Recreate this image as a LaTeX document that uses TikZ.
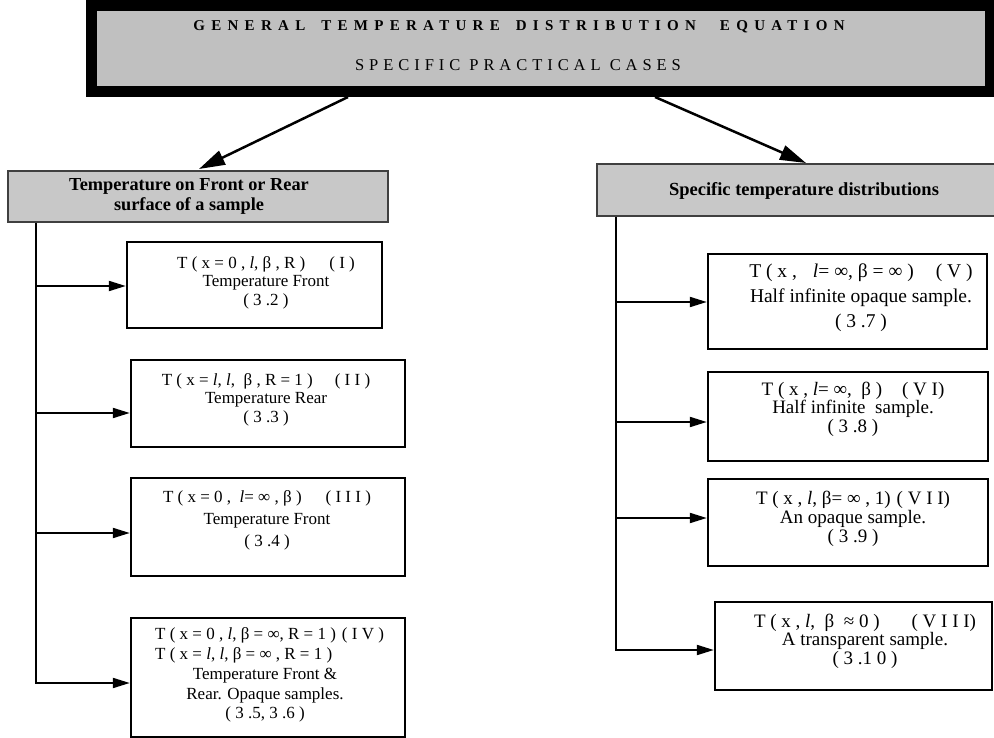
\documentclass[tikz,border=0pt]{standalone}
\usepackage{fontspec}
\setmainfont{Liberation Serif}
\newfontfamily\titlefont[LetterSpace=42]{Liberation Serif}
\newfontfamily\subtitlefont[LetterSpace=30]{Liberation Serif}
\usetikzlibrary{arrows.meta}
\definecolor{hdgray}{RGB}{200,200,200}
\definecolor{ttlgray}{RGB}{192,192,192}
\newcommand{\fsz}[2]{\fontsize{#1pt}{#2pt}\selectfont}
\newcommand{\il}{\textit{l}}
\tikzset{
  boxnode/.style={draw=black, line width=2.4pt, rectangle, inner sep=0pt},
  headbox/.style={draw=black!75, fill=hdgray, line width=2pt, rectangle, inner sep=0pt},
  txt/.style={align=center, inner sep=0pt, anchor=north},
  branch/.style={line width=2pt, -{Triangle[length=17pt,width=10pt]}},
  trunk/.style={line width=2pt},
  bigarrow/.style={line width=2.5pt, -{Triangle[length=26pt,width=15pt]}},
}
\begin{document}
\begin{tikzpicture}[x=1pt,y=-1pt]
\useasboundingbox (0,0) rectangle (994,738);
% title
\node[rectangle, draw=black, fill=ttlgray, line width=11pt, minimum width=899pt, minimum height=86pt, inner sep=0pt] (title) at (541,48.5) {};
\node[inner sep=0pt, font=\titlefont\bfseries\fsz{15}{17}] (ttl1) at (519,26.5) {GENERAL\hspace{16pt}TEMPERATURE\hspace{16pt}DISTRIBUTION\hspace{24pt}EQUATION};
\node[inner sep=0pt, font=\subtitlefont\fsz{16.5}{18}] (ttl2) at (518,65) {SPECIFIC PRACTICAL CASES};
% headers
\node[headbox, minimum width=380pt, minimum height=51pt] (hl) at (198,196.5) {};
\node[txt, font=\bfseries\fsz{18.3}{20}] (hlt) at (189,178) {Temperature on Front or Rear\\surface of a sample};
\node[headbox, minimum width=403pt, minimum height=52pt] (hr) at (798.5,190) {};
\node[inner sep=0pt, font=\bfseries\fsz{18.5}{20}] (hrt) at (804,191) {Specific temperature distributions};
% left boxes
\node[boxnode, minimum width=255pt, minimum height=86pt] (b1) at (254.5,285) {};
\node[boxnode, minimum width=274pt, minimum height=87pt] (b2) at (268,403.5) {};
\node[boxnode, minimum width=274pt, minimum height=98pt] (b3) at (268,527) {};
\node[boxnode, minimum width=274pt, minimum height=119pt] (b4) at (268,677.5) {};
% right boxes
\node[boxnode, minimum width=279pt, minimum height=95pt] (b5) at (847.5,301.5) {};
\node[boxnode, minimum width=280pt, minimum height=89pt] (b6) at (848,416.5) {};
\node[boxnode, minimum width=280pt, minimum height=87pt] (b7) at (848,522.5) {};
\node[boxnode, minimum width=277pt, minimum height=88pt] (b8) at (853.5,646) {};
% texts
\node[txt, font=\fsz{17}{18.5}] (t1) at (266,256) {T ( x = 0 , \il, β , R )\hspace{24pt}( I )\\Temperature Front\\( 3 .2 )};
\node[txt, font=\fsz{17}{18.5}] (t2) at (266,373) {T ( x = \il, \il, \ β , R = 1 )\hspace{22pt}( I I )\\Temperature Rear\\( 3 .3 )};
\node[txt, font=\fsz{17}{22}] (t3) at (267,490) {T ( x = 0 , \ \il = ∞ , β )\hspace{24pt}( I I I )\\Temperature Front\\( 3 .4 )};
\node[txt, anchor=north west, align=left, font=\fsz{17}{20}] (t4a) at (155,627) {T ( x = 0 , \il, β = ∞, R = 1 )\hspace{6pt}( I V )\\T ( x = \il, \il, β = ∞ , R = 1 )};
\node[txt, font=\fsz{17}{19.5}] (t4b) at (265,668) {Temperature Front \&\\Rear. Opaque samples.\\( 3 .5, 3 .6 )};
\node[txt, font=\fsz{19.5}{25}] (t5) at (861,264) {T ( x ,\hspace{16pt}\il = ∞, β = ∞ )\hspace{22pt}( V )\\Half infinite opaque sample.\\( 3 .7 )};
\node[txt, font=\fsz{19}{18.5}] (t6) at (853,381.5) {T ( x , \il = ∞, \ β )\hspace{20pt}( V I)\\Half infinite \ sample.\\( 3 .8 )};
\node[txt, font=\fsz{19}{19}] (t7) at (853,490.5) {T ( x , \il, β= ∞ , 1)\hspace{6pt}( V I I)\\An opaque sample.\\( 3 .9 )};
\node[txt, font=\fsz{19}{18.5}] (t8) at (865,613.5) {T ( x , \il, \ β \ ≈ 0 )\hspace{32pt}( V I I I)\\A transparent sample.\\( 3 .1 0 )};
% top arrows
\coordinate (aL0) at (348,97);
\coordinate (aL1) at (199,169);
\coordinate (aR0) at (655,97);
\coordinate (aR1) at (806,163);
\draw[bigarrow] (aL0) -- (aL1);
\draw[bigarrow] (aR0) -- (aR1);
% left trunk
\coordinate (L1) at (36,286);
\coordinate (L2) at (36,413);
\coordinate (L3) at (36,533);
\coordinate (L4) at (36,683);
\draw[trunk, -{Triangle[length=17pt,width=10pt]}] (hl.south -| L4) -- (L4) -- (L4 -| b4.west);
\draw[branch] (L1) -- (L1 -| b1.west);
\draw[branch] (L2) -- (L2 -| b2.west);
\draw[branch] (L3) -- (L3 -| b3.west);
% right trunk
\coordinate (R1) at (616,302);
\coordinate (R2) at (616,422);
\coordinate (R3) at (616,518);
\coordinate (R4) at (616,650);
\draw[trunk, -{Triangle[length=17pt,width=10pt]}] (hr.south -| R4) -- (R4) -- (R4 -| b8.west);
\draw[branch] (R1) -- (R1 -| b5.west);
\draw[branch] (R2) -- (R2 -| b6.west);
\draw[branch] (R3) -- (R3 -| b7.west);
\end{tikzpicture}
\end{document}
